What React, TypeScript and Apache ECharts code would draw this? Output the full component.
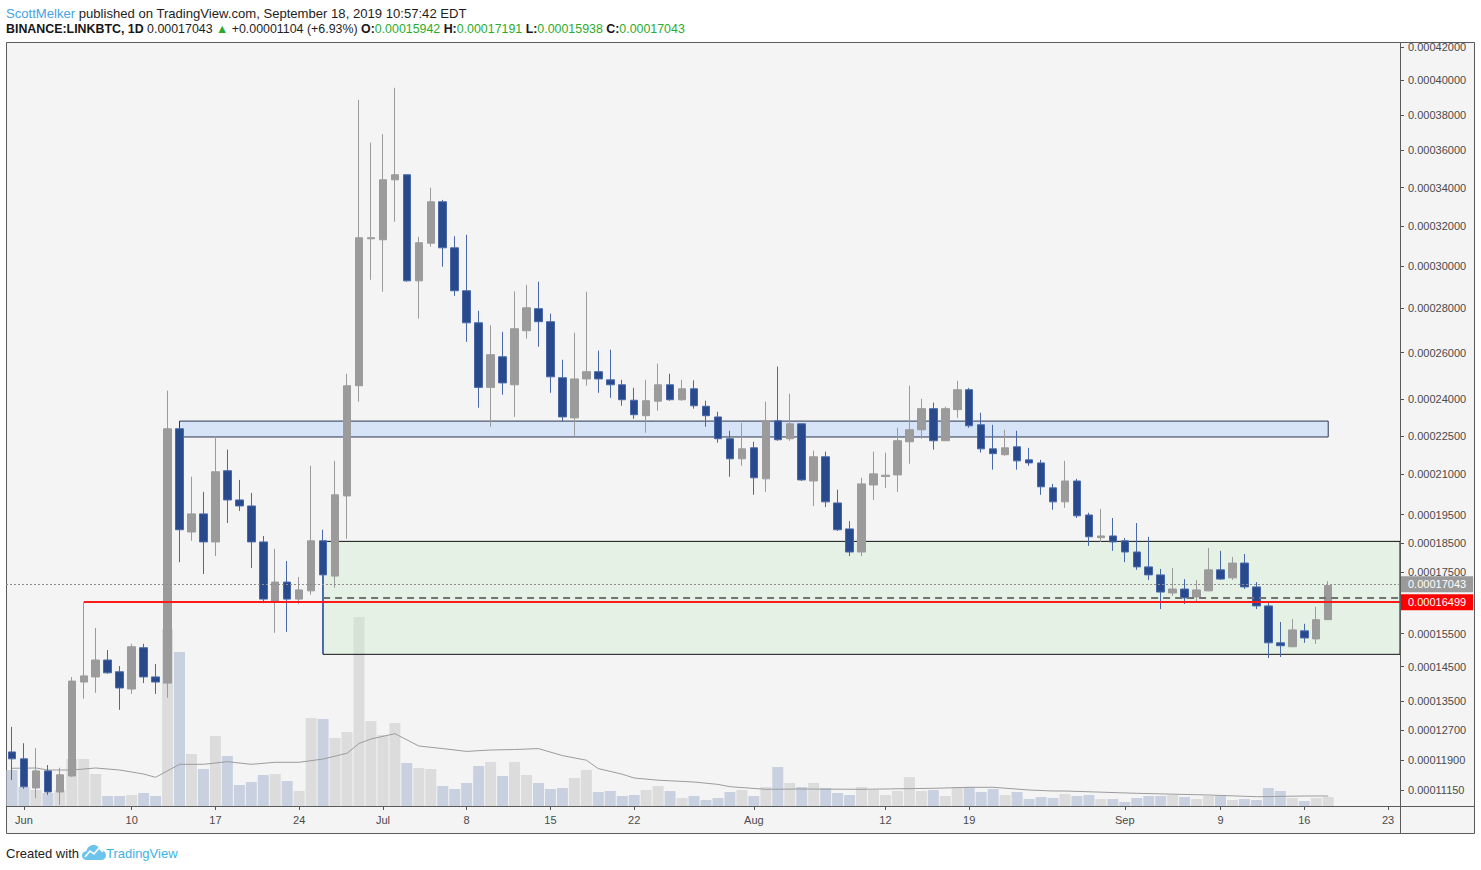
import React, { useEffect, useRef } from 'react';
import * as echarts from 'echarts';

// ---- data (prices in satoshi, 1 sat = 0.00000001 BTC) ----
const START_DATE = '2019-05-31'; // day index 0
const OPEN = [
  12120, 11940, 11200, 11630, 11100, 11500, 14050, 14200, 14700, 14350,
  13850, 15070, 14200, 14020, 22790, 18880, 19530, 18530, 21140, 20040,
  19820, 18530, 16540, 17160, 16600, 16870, 18570, 17360, 20190, 24570,
  31360, 31310, 34410, 34680, 29300, 31140, 33250, 30910, 28830, 27340,
  24500, 25820, 24610, 26980, 27990, 27390, 24910, 23230, 24860, 25170,
  24820, 24610, 23960, 23320, 23920, 24610, 23980, 24440, 23710, 23270,
  22390, 21600, 22030, 20830, 23110, 22390, 22990, 20750, 21680, 19930,
  18990, 18180, 20600, 20920, 20980, 22270, 22750, 23610, 22310, 23570,
  24400, 22950, 21990, 21760, 22070, 21560, 21440, 20490, 19970, 20750,
  19490, 18680, 18740, 18570, 18180, 17670, 17400, 16800, 16930, 16670,
  16870, 17570, 17300, 17800, 17000, 16380, 15220, 15100, 15590, 15340,
  15942,
];
const HIGH = [
  12790, 12350, 12220, 11780, 11710, 14200, 16500, 15680, 15000, 14520,
  15190, 15190, 14580, 24360, 22800, 20910, 20340, 22470, 21960, 20790,
  20300, 18740, 18290, 17870, 17330, 21330, 18960, 21520, 25080, 38860,
  36430, 36900, 39560, 34700, 31460, 33990, 33350, 31490, 31560, 27890,
  27230, 26930, 28800, 29110, 29260, 27760, 25690, 26890, 28780, 26090,
  26130, 24820, 24480, 24820, 25520, 25080, 24820, 24800, 23940, 23480,
  22710, 23030, 22270, 23900, 25390, 24230, 23000, 21920, 21880, 20420,
  19270, 20870, 21880, 21840, 22830, 24570, 24020, 23860, 23690, 24780,
  24480, 23440, 22950, 22750, 22710, 22030, 21560, 20640, 21520, 20830,
  19570, 19710, 19380, 18670, 19200, 18710, 17600, 17630, 17260, 17230,
  18320, 18220, 18010, 18110, 17160, 16470, 15870, 15960, 15810, 16350,
  17191,
];
const LOW = [
  11400, 11180, 10950, 11030, 10780, 11480, 13570, 13740, 14290, 13260,
  13710, 14020, 13710, 13600, 17830, 18570, 17430, 18040, 19200, 19640,
  17630, 16470, 15530, 15560, 16440, 16740, 14880, 16970, 18640, 23900,
  29350, 28780, 32220, 29260, 27530, 30960, 29980, 28590, 26480, 23650,
  22870, 24190, 23270, 26620, 26260, 24270, 23090, 22510, 24570, 24270,
  24060, 23730, 23190, 22630, 23520, 23940, 23940, 23610, 22870, 22230,
  20910, 21330, 20230, 20340, 22310, 22310, 20750, 19820, 19780, 18920,
  18040, 18040, 20040, 20490, 20340, 21410, 22390, 21960, 22300, 23230,
  22830, 21840, 21180, 21720, 21180, 21330, 20230, 19680, 19750, 19380,
  18390, 18530, 18220, 17830, 17570, 17230, 16280, 16700, 16440, 16510,
  16860, 17230, 17230, 16930, 16280, 14760, 14790, 15090, 15220, 15190,
  15938,
];
const CLOSE = [
  11940, 11230, 11630, 11100, 11530, 14080, 14230, 14700, 14320, 13880,
  15100, 14200, 14050, 22790, 18960, 19530, 18530, 21100, 20040, 19820,
  18530, 16600, 17160, 16600, 16900, 18570, 17400, 20230, 24570, 31410,
  31410, 34410, 34680, 29300, 31160, 33250, 30910, 28830, 27340, 24500,
  25910, 24690, 27070, 28030, 27390, 24950, 23270, 24860, 25170, 24860,
  24610, 23980, 23360, 23940, 24610, 23980, 24440, 23730, 23320, 22390,
  21600, 21990, 20870, 23110, 22350, 22990, 20790, 21680, 19970, 18960,
  18180, 20640, 21020, 20970, 22310, 22750, 23610, 22310, 23610, 24400,
  22910, 21990, 21800, 22030, 21520, 21440, 20530, 19970, 20750, 19460,
  18710, 18740, 18530, 18180, 17670, 17400, 16830, 16930, 16640, 16900,
  17570, 17260, 17800, 17000, 16380, 15220, 15130, 15620, 15370, 15940,
  17043,
];
// volume, arbitrary units
const VOLUME = [
  36, 19, 16, 13, 16, 47, 47, 32, 10, 10,
  11, 13, 10, 177, 154, 52, 37, 70, 50, 21,
  24, 31, 32, 25, 15, 88, 87, 68, 74, 189,
  85, 71, 83, 43, 38, 37, 20, 17, 23, 40,
  44, 30, 44, 31, 23, 17, 18, 28, 36, 14,
  15, 10, 11, 16, 20, 15, 8, 10, 6, 8,
  14, 16, 10, 19, 39, 23, 19, 23, 18, 13,
  11, 19, 16, 11, 15, 29, 15, 16, 10, 19,
  19, 14, 17, 11, 14, 7, 9, 8, 12, 10,
  11, 7, 7, 4, 8, 10, 10, 11, 9, 7,
  10, 10, 6, 7, 6, 18, 15, 8, 5, 8,
  9,
];
// volume moving average, read at these days
const VOL_MA_DAY = [0, 2, 3, 5, 7, 9, 11, 12, 14, 16, 18, 20, 22, 24, 26, 28, 29, 30, 32, 34, 36, 38, 40, 42, 44, 46, 48, 49, 51, 52, 54, 57, 59, 60, 63, 66, 71, 77, 80, 82, 85, 87, 88, 94, 100, 104, 108, 110];
const VOL_MA = [37.7, 38, 36, 36, 38, 36, 32, 28.7, 41.7, 41.7, 44.3, 41.7, 43.7, 43.7, 47, 52.7, 62.5, 67, 72.3, 60, 57.4, 54.6, 56, 56.5, 57.4, 50.4, 45.8, 37.4, 31.8, 28, 25.8, 24, 21.6, 19.3, 16.7, 17, 16.7, 17.7, 18.7, 18.7, 16, 15, 15, 12.7, 11, 9.3, 10, 10];

const PRICE_TICKS = [11150, 11900, 12700, 13500, 14500, 15500, 17500, 18500, 19500, 21000, 22500, 24000, 26000, 28000, 30000, 32000, 34000, 36000, 38000, 40000, 42000];
const PRICE_MIN = 10757;
const PRICE_MAX = 42310;
const DAY_TICKS = [1, 10, 17, 24, 31, 38, 45, 52, 62, 73, 80, 93, 101, 108, 115];
const DAY_LABELS = ['Jun', '10', '17', '24', 'Jul', '8', '15', '22', 'Aug', '12', '19', 'Sep', '9', '16', '23'];
const DAY_MAX = 116;

const LAST_PRICE = 17043;
const RED_LEVEL = 16499;
const RED_FROM_DAY = 6;
const BLUE_ZONE = [14, 110, 23100, 22460]; // fromDay, toDay, top, bottom
const GREEN_ZONE = [26, DAY_MAX, 18550, 14870];
const GREEN_MID = 16650;

// ---- price scale (power-like scale as in the source chart) ----
const P = 0.32;
const tf = (sat: number) => Math.pow(sat / 1000, P);
const fmt = (sat: number) => (sat / 1e8).toFixed(8);

const FONT = "'Liberation Sans', Arial, sans-serif";
const UP = '#9b9b9b';
const DOWN = '#284a8c';
const DOWN_BORDER = '#4868a8';

let logoDone = false;
function registerLogo() {
  if (logoDone) return;
  logoDone = true;
  const Cloud = echarts.graphic.extendPath(
    'M5 16 C1.5 16 0 13.5 0 11.5 C0 9 2 7.2 4.4 7.2 C5 3.6 8 1 11.6 1 C14.6 1 17 2.8 18 5.4 C21.4 5.6 24 8.2 24 11.2 C24 14 21.8 16 19 16 Z',
    {}
  );
  echarts.graphic.registerShape('tvcloud', Cloud);
}

function buildOption() {
  const candles = OPEN.map((o, i) => [i, tf(o), tf(CLOSE[i]), tf(LOW[i]), tf(HIGH[i])]);
  const vols = VOLUME.map((v, i) => ({
    value: [i, v],
    itemStyle: { color: CLOSE[i] >= OPEN[i] ? '#dcdcdc' : '#c9d1e0' },
  }));
  const ma = VOL_MA_DAY.map((d, k) => [d, VOL_MA[k]]);
  const tickT = PRICE_TICKS.map(tf);

  const priceLabel = (val: number) => {
    let best = 0;
    let bd = Infinity;
    tickT.forEach((t, k) => {
      const d = Math.abs(t - val);
      if (d < bd) { bd = d; best = k; }
    });
    return fmt(PRICE_TICKS[best]);
  };

  const boxLabel = (bg: string, text: string) => ({
    show: true,
    position: 'end',
    distance: 1,
    formatter: text,
    backgroundColor: bg,
    color: '#ffffff',
    fontFamily: FONT,
    fontSize: 11,
    lineHeight: 13,
    padding: [2, 7, 1, 7],
  });

  return {
    animation: false,
    backgroundColor: '#ffffff',
    grid: { left: 6, right: 81, top: 42, bottom: 64, containLabel: false },
    xAxis: {
      type: 'value',
      min: -0.5,
      max: DAY_MAX,
      axisLine: { show: false, onZero: false },
      splitLine: { show: false },
      axisTick: { show: true, customValues: DAY_TICKS, length: 4, lineStyle: { color: '#555555' } },
      axisLabel: {
        customValues: DAY_TICKS,
        formatter: (v: number) => {
          const k = DAY_TICKS.indexOf(Math.round(v));
          return k >= 0 ? DAY_LABELS[k] : '';
        },
        color: '#4a4a4a',
        fontFamily: FONT,
        fontSize: 11,
        margin: 8,
      },
    },
    yAxis: [
      {
        type: 'value',
        position: 'right',
        min: tf(PRICE_MIN),
        max: tf(PRICE_MAX),
        axisLine: { show: false, onZero: false },
        splitLine: { show: false },
        axisTick: { show: true, customValues: tickT, length: 4, lineStyle: { color: '#555555' } },
        axisLabel: {
          customValues: tickT,
          formatter: priceLabel,
          color: '#4a4a4a',
          fontFamily: FONT,
          fontSize: 11,
          margin: 8,
        },
      },
      { type: 'value', min: 0, max: 764, show: false, axisLine: { onZero: false } },
    ],
    series: [
      {
        name: 'Volume',
        type: 'bar',
        xAxisIndex: 0,
        yAxisIndex: 1,
        barWidth: 11,
        data: vols,
        z: 2,
        silent: true,
      },
      {
        name: 'Volume MA',
        type: 'line',
        xAxisIndex: 0,
        yAxisIndex: 1,
        data: ma,
        symbol: 'none',
        lineStyle: { color: '#9c9c9c', width: 1 },
        z: 2,
        silent: true,
      },
      {
        name: 'zones',
        type: 'line',
        xAxisIndex: 0,
        yAxisIndex: 0,
        data: [],
        z: 3,
        silent: true,
        markArea: {
          z: 3,
          silent: true,
          label: { show: false },
          data: [
            [
              { coord: [BLUE_ZONE[0], tf(BLUE_ZONE[2])], itemStyle: { color: '#d7e3f6', borderColor: '#2c3550', borderWidth: 1 } },
              { coord: [BLUE_ZONE[1], tf(BLUE_ZONE[3])] },
            ],
            [
              { coord: [GREEN_ZONE[0], tf(GREEN_ZONE[2])], itemStyle: { color: 'rgba(205,236,205,0.38)', borderColor: '#111111', borderWidth: 1 } },
              { coord: [GREEN_ZONE[1], tf(GREEN_ZONE[3])] },
            ],
          ],
        },
      },
      {
        name: 'LINKBTC',
        type: 'candlestick',
        xAxisIndex: 0,
        yAxisIndex: 0,
        data: candles,
        encode: { x: 0, y: [1, 2, 3, 4] },
        barWidth: 8,
        z: 4,
        silent: true,
        itemStyle: {
          color: UP,
          color0: DOWN,
          borderColor: UP,
          borderColor0: DOWN_BORDER,
          borderWidth: 1,
        },
      },
      {
        name: 'lines',
        type: 'line',
        xAxisIndex: 0,
        yAxisIndex: 0,
        data: [],
        z: 6,
        silent: true,
        markLine: {
          z: 6,
          silent: true,
          symbol: ['none', 'none'],
          data: [
            [
              { coord: [GREEN_ZONE[0], tf(GREEN_MID)], lineStyle: { color: '#737373', width: 2, type: [7, 5] }, label: { show: false } },
              { coord: [DAY_MAX, tf(GREEN_MID)] },
            ],
            {
              yAxis: tf(LAST_PRICE),
              lineStyle: { color: '#8c8c8c', width: 1, type: [2, 2] },
              label: boxLabel('#9a9a9a', fmt(LAST_PRICE)),
            },
            [
              { coord: [RED_FROM_DAY, tf(RED_LEVEL)], lineStyle: { color: '#ff1a1a', width: 2, type: 'solid' }, label: boxLabel('#ff0000', fmt(RED_LEVEL)) },
              { coord: [DAY_MAX, tf(RED_LEVEL)] },
            ],
          ],
        },
      },
    ],
    graphic: [
      {
        type: 'rect',
        z: -10,
        silent: true,
        shape: { x: 6.5, y: 42.5, width: 1468, height: 791 },
        style: { fill: '#f4f4f4', stroke: '#5a5a5a', lineWidth: 1 },
      },
      {
        type: 'line',
        z: 100,
        silent: true,
        shape: { x1: 6.5, y1: 806.5, x2: 1474.5, y2: 806.5 },
        style: { stroke: '#5a5a5a', lineWidth: 1 },
      },
      {
        type: 'line',
        z: 100,
        silent: true,
        shape: { x1: 1400.5, y1: 42.5, x2: 1400.5, y2: 833.5 },
        style: { stroke: '#5a5a5a', lineWidth: 1 },
      },
      {
        type: 'text',
        x: 6,
        y: 13,
        silent: true,
        style: {
          text: '{a|ScottMelker}{b| published on TradingView.com, September 18, 2019 10:57:42 EDT}',
          verticalAlign: 'middle',
          rich: {
            a: { fontFamily: FONT, fontSize: 13.1, fill: '#45a3e6' },
            b: { fontFamily: FONT, fontSize: 13.1, fill: '#1e1e1e' },
          },
        },
      },
      {
        type: 'text',
        x: 6,
        y: 29,
        silent: true,
        style: {
          text:
            '{k|BINANCE:LINKBTC, 1D}{n| 0.00017043 }{g|▲}{n| +0.00001104 (+6.93%) }{k|O:}{g|0.00015942}{n| }{k|H:}{g|0.00017191}{n| }{k|L:}{g|0.00015938}{n| }{k|C:}{g|0.00017043}',
          verticalAlign: 'middle',
          rich: {
            k: { fontFamily: FONT, fontSize: 12.4, fontWeight: 'bold', fill: '#161616' },
            n: { fontFamily: FONT, fontSize: 12.4, fill: '#1e1e1e' },
            g: { fontFamily: FONT, fontSize: 12.4, fill: '#2bab2b' },
          },
        },
      },
      {
        type: 'text',
        x: 6,
        y: 853,
        silent: true,
        style: { text: 'Created with', fontFamily: FONT, fontSize: 13, fill: '#222222', verticalAlign: 'middle' },
      },
      {
        type: 'tvcloud',
        x: 82,
        y: 844,
        silent: true,
        style: { fill: '#6cc3ec' },
      },
      {
        type: 'polyline',
        silent: true,
        shape: { points: [[85, 857], [90, 851], [94, 854], [99, 848], [103, 852]] },
        style: { stroke: '#ffffff', lineWidth: 1.6, fill: null },
        z: 1,
      },
      {
        type: 'text',
        x: 106,
        y: 853,
        silent: true,
        style: { text: 'TradingView', fontFamily: FONT, fontSize: 13, fill: '#3eb1e6', verticalAlign: 'middle' },
      },
    ],
  };
}

export default function App() {
  const ref = useRef<HTMLDivElement>(null);
  useEffect(() => {
    registerLogo();
    const chart = echarts.init(ref.current as HTMLDivElement, undefined, { renderer: 'svg' });
    chart.setOption(buildOption() as any);
    return () => chart.dispose();
  }, []);
  return (
    <div
      ref={ref}
      data-start={START_DATE}
      style={{ position: 'fixed', left: 0, top: 0, width: 1481, height: 870 }}
    />
  );
}
